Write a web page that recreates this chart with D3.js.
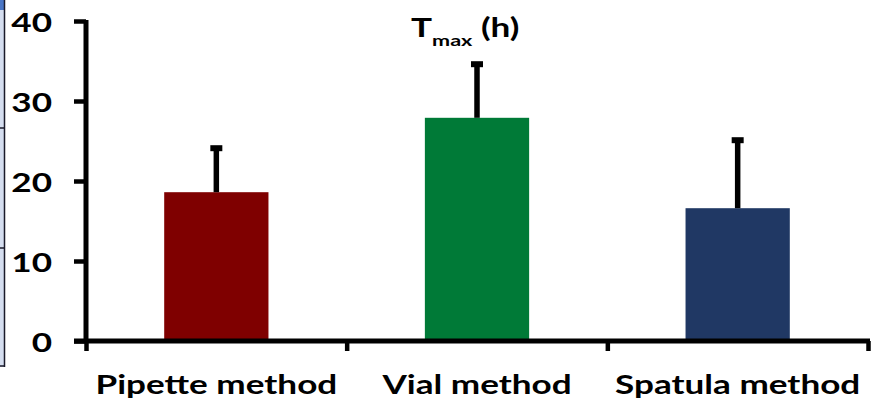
<!DOCTYPE html>
<html>
<head>
<meta charset="utf-8">
<script src="https://cdn.jsdelivr.net/npm/d3@7/dist/d3.min.js"></script>
<style>
  html, body { margin: 0; padding: 0; background: #fff; }
  svg { display: block; }
  text { font-family: Lato, "Open Sans", sans-serif; font-weight: 700; fill: #000; }
</style>
</head>
<body>
<svg id="chart" width="877" height="405"></svg>
<script>
// Tmax (h) by sampling method: mean and upper standard deviation
const categories = ["Pipette method", "Vial method", "Spatula method"];
const tmaxMean = [18.6, 27.9, 16.6];
const tmaxSD = [5.5, 6.7, 8.5];
const barColors = ["#7f0000", "#007a37", "#203864"];
const yTicks = [0, 10, 20, 30, 40];

const svg = d3.select("#chart");
const plot = { left: 86, right: 868, top: 21, bottom: 341 };
const fontSize = 26;
const stretch = 1.35; // horizontal stretch applied to all lettering

const y = d3.scaleLinear().domain([0, 40]).range([plot.bottom, plot.top]);
const x = d3.scaleBand().domain(categories).range([plot.left, plot.right])
  .paddingInner(0.6).paddingOuter(0.3);
const xEdge = d3.scaleLinear().domain([0, categories.length]).range([plot.left, plot.right]);

// edge of the adjacent panel on the far left
const edge = svg.append("g");
edge.append("rect").attr("x", 0).attr("y", 0).attr("width", 4.5).attr("height", 367).attr("fill", "#d5def0");
edge.append("rect").attr("x", 0).attr("y", 0).attr("width", 4.5).attr("height", 10).attr("fill", "#4a76c6");
edge.append("line").attr("x1", 4.5).attr("x2", 4.5).attr("y1", 0).attr("y2", 367).attr("stroke", "#1a1a2a").attr("stroke-width", 1.5);
[128, 248, 366].forEach(yy => edge.append("line").attr("x1", 0).attr("x2", 5).attr("y1", yy).attr("y2", yy)
  .attr("stroke", "#1a1a2a").attr("stroke-width", 1.5));

// bars
svg.append("g").selectAll("rect").data(categories).join("rect")
  .attr("x", d => x(d))
  .attr("width", x.bandwidth())
  .attr("y", (d, i) => y(tmaxMean[i]))
  .attr("height", (d, i) => y(0) - y(tmaxMean[i]))
  .attr("fill", (d, i) => barColors[i]);

// upper error bars
const err = svg.append("g");
categories.forEach((c, i) => {
  const cx = x(c) + x.bandwidth() / 2;
  const top = y(tmaxMean[i] + tmaxSD[i]);
  err.append("line").attr("x1", cx).attr("x2", cx)
    .attr("y1", y(tmaxMean[i])).attr("y2", top)
    .attr("stroke", "#000").attr("stroke-width", 5.5);
  err.append("line").attr("x1", cx - 6).attr("x2", cx + 6)
    .attr("y1", top).attr("y2", top)
    .attr("stroke", "#000").attr("stroke-width", 6);
});

// y axis
const yAxis = svg.append("g").attr("transform", `translate(${plot.left},0)`)
  .call(d3.axisLeft(y).tickValues(yTicks).tickSize(12).tickSizeOuter(0));
yAxis.select(".domain").attr("stroke", "#000").attr("stroke-width", 5).attr("d", `M0,${plot.top - 1}V${plot.bottom}`);
yAxis.selectAll(".tick line").attr("stroke", "#000").attr("stroke-width", 4.5);
yAxis.selectAll(".tick text")
  .attr("x", 0).attr("dy", "0.36em")
  .attr("transform", `translate(-34,1) scale(${stretch},1)`)
  .style("font-size", fontSize + "px")
  .style("font-family", "Lato, 'Open Sans', sans-serif")
  .style("font-weight", 700)
  .attr("fill", "#000");

// x axis with ticks between categories
const xAxis = svg.append("g").attr("transform", `translate(0,${plot.bottom})`)
  .call(d3.axisBottom(xEdge).tickValues(d3.range(categories.length + 1)).tickFormat("").tickSize(10).tickSizeOuter(0));
xAxis.select(".domain").attr("stroke", "#000").attr("stroke-width", 5).attr("d", `M${plot.left - 12},0H${plot.right + 2}`);
xAxis.selectAll(".tick line").attr("stroke", "#000").attr("stroke-width", 4.5);

// category labels
svg.append("g").selectAll("text").data(categories).join("text")
  .attr("text-anchor", "middle")
  .attr("transform", d => `translate(${x(d) + x.bandwidth() / 2},394) scale(${stretch},1)`)
  .style("font-size", fontSize + "px")
  .text(d => d);

// title
const title = svg.append("text")
  .attr("transform", `translate(411,37) scale(${stretch},1)`)
  .style("font-size", "26px");
title.append("tspan").text("T");
title.append("tspan").attr("dy", 9).style("font-size", "16px").text("max");
title.append("tspan").attr("dy", -9).text(" (h)");
</script>
</body>
</html>
